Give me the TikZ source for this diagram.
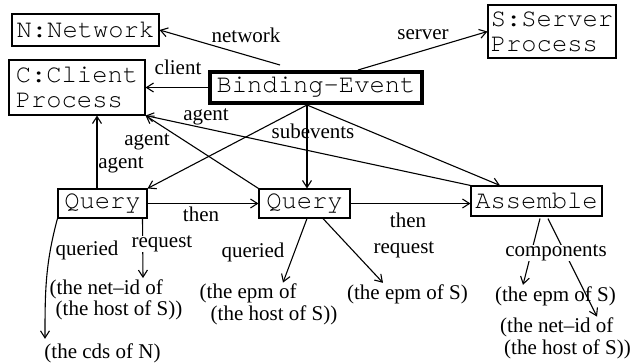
\documentclass[tikz,border=0pt]{standalone}
\usepackage{fontspec}
\setmainfont{Liberation Serif}
\setmonofont{TeX Gyre Cursor}
\usetikzlibrary{arrows.meta}

\begin{document}
\begin{tikzpicture}[x=1pt,y=-1pt,line width=1.1pt,
        >={Straight Barb[length=7pt,width=9pt]},
        obj/.style={draw,font=\ttfamily\fontsize{25.5}{25}\selectfont,align=left,inner sep=0pt},
        lbl/.style={font=\fontsize{21}{21.5}\selectfont,inner sep=0pt},
        leaf/.style={lbl,align=left,inner sep=1pt}]
        \useasboundingbox (0,0) rectangle (635,364);
        % objects
        \node[obj,minimum width=147pt,minimum height=32pt] (net) at (85.5,30) {N:Network};
        \node[obj,minimum width=136pt,minimum height=55pt] (cli) at (77,87.5) {C:Client\\Process};
        \node[obj,line width=4pt,minimum width=212pt,minimum height=31pt] (bind) at (316,87.5) {Binding-Event};
        \node[obj,minimum width=128pt,minimum height=53pt] (srv) at (552,31.5) {S:Server\\Process};
        \node[obj,minimum width=89pt,minimum height=29pt] (q1) at (102.5,203.5) {Query};
        \node[obj,minimum width=91pt,minimum height=29pt] (q2) at (304.5,203.5) {Query};
        \node[obj,minimum width=131pt,minimum height=30pt] (asm) at (536.5,201) {Assemble};
        % values
        \node[leaf] (netid) at (116,300) {(the net--id of\\\hspace*{6pt}(the host of S))};
        \node[leaf] (cds) at (102.5,353) {(the cds of N)};
        \node[leaf] (epmhost) at (268.5,304.5) {(the epm of\\\hspace*{11pt}(the host of S))};
        \node[leaf] (epm) at (407.5,294) {(the epm of S)};
        \node[leaf] (cepm) at (555.5,296) {(the epm of S)};
        \node[leaf] (cnetid) at (565.5,338.5) {(the net--id of\\\hspace*{4pt}(the host of S))};
        % links
        \draw[->] ([xshift=-36pt,yshift=5pt]bind.north) -- (net.east);
        \draw[->] ([xshift=42pt]bind.north) -- (srv.west);
        \draw[->] (bind.west) -- (cli.east);
        \draw[->] ([xshift=-9pt]bind.south) -- (q1.north east);
        \draw[->] ([xshift=-9pt]bind.south) -- ([xshift=2.5pt]q2.north);
        \draw[->] ([xshift=-9pt]bind.south) -- ([xshift=-36.5pt]asm.north);
        \draw[->] ([xshift=-5.5pt]q1.north) -- ([xshift=-5.5pt]q1.north |- cli.south);
        \draw[->] (q2.north west) -- (cli.south east);
        \draw[->] (asm.north west) -- (cli.south east);
        \draw[->] (q1.east) -- (q2.west);
        \draw[->] (q2.east) -- (q2.east -| asm.west);
        \draw[->] (q1.south west) to[out=-105,in=90] ([xshift=-57.5pt,yshift=3pt]cds.north);
        \draw[->] ([xshift=40pt]q1.south) -- ([xshift=27pt]netid.north);
        \draw[->] ([xshift=2.5pt]q2.south) -- ([xshift=14.5pt]epmhost.north);
        \draw[->] ([xshift=18.5pt]q2.south) -- ([xshift=-24.5pt]epm.north);
        \draw[->] ([xshift=3.5pt,yshift=-2pt]asm.south) -- ([xshift=-32.5pt]cepm.north);
        \draw[->] ([xshift=11.5pt,yshift=-2pt]asm.south) -- ([xshift=31.5pt]cnetid.north);
        % link labels
        \node[lbl] (lnet) at (246,35) {network};
        \node[lbl] (lsrv) at (423,35) {server};
        \node[lbl] (lcli) at (178,67) {client};
        \node[lbl] (lagent1) at (206,117) {agent};
        \node[lbl] (lagent2) at (147,142) {agent};
        \node[lbl] (lagent3) at (121,165) {agent};
        \node[lbl] (lsub) at (313,131) {subevents};
        \node[lbl] (lthen1) at (201,214) {then};
        \node[lbl] (lthen2) at (408,220) {then};
        \node[lbl] (lqry1) at (87,250) {queried};
        \node[lbl,fill=white] (lreq1) at (162,244) {request};
        \node[lbl] (lqry2) at (253,252) {queried};
        \node[lbl] (lreq2) at (404,250) {request};
        \node[lbl,fill=white] (lcomp) at (556,253) {components};
\end{tikzpicture}
\end{document}
